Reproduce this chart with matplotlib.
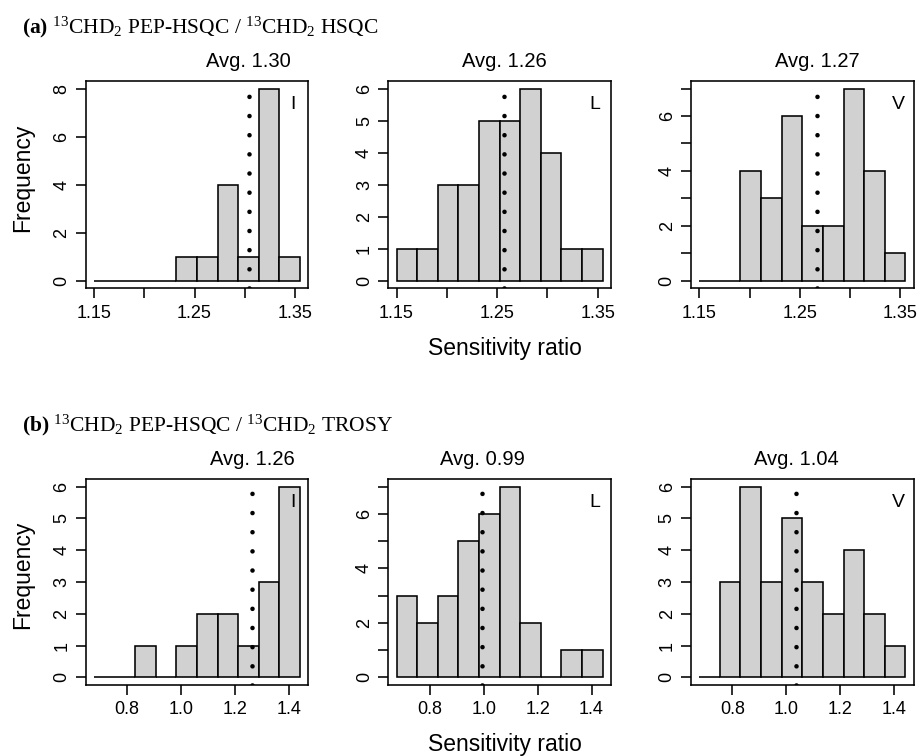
import numpy as np
import matplotlib
matplotlib.use("Agg")
import matplotlib.pyplot as plt

# histogram counts (10 bins per panel)
residues = ["I", "L", "V"]

hsqc_I = [0, 0, 0, 0, 1, 1, 4, 1, 8, 1]
hsqc_L = [1, 1, 3, 3, 5, 5, 6, 4, 1, 1]
hsqc_V = [0, 0, 4, 3, 6, 2, 2, 7, 4, 1]
hsqc_means = [1.304, 1.257, 1.267]
hsqc_avg_text = ["Avg. 1.30", "Avg. 1.26", "Avg. 1.27"]
hsqc_bin_start, hsqc_bin_width = 1.150, 0.0205
hsqc_xticks = [1.15, 1.20, 1.25, 1.30, 1.35]
hsqc_xticklabels = ["1.15", "", "1.25", "", "1.35"]

trosy_I = [0, 0, 1, 0, 1, 2, 2, 1, 3, 6]
trosy_L = [3, 2, 3, 5, 6, 7, 2, 0, 1, 1]
trosy_V = [0, 3, 6, 3, 5, 3, 2, 4, 2, 1]
trosy_means = [1.263, 0.994, 1.037]
trosy_avg_text = ["Avg. 1.26", "Avg. 0.99", "Avg. 1.04"]
trosy_bin_start, trosy_bin_width = 0.677, 0.0764
trosy_xticks = [0.8, 1.0, 1.2, 1.4]
trosy_xticklabels = ["0.8", "1.0", "1.2", "1.4"]

plt.rcParams["font.family"] = ["Liberation Sans", "DejaVu Sans"]
plt.rcParams["mathtext.fontset"] = "custom"
plt.rcParams["mathtext.rm"] = "Liberation Serif"
plt.rcParams["mathtext.it"] = "Liberation Serif:italic"
plt.rcParams["mathtext.bf"] = "Liberation Serif:bold"

BAR = "#d0d1d0"
LW = 1.15


def draw_panel(ax, counts, start, width, mean, avg_text, res, xticks, xticklabels):
    edges = start + width * np.arange(len(counts) + 1)
    ax.bar(edges[:-1], counts, width=width, align="edge",
           color=BAR, edgecolor="black", linewidth=LW, zorder=2)
    ymax = max(counts)
    lo, hi = edges[0], edges[-1]
    pad = 0.04 * (hi - lo)
    ax.set_xlim(lo - pad, hi + pad)
    ax.set_ylim(-0.04 * ymax, 1.04 * ymax)

    ax.set_xticks(xticks)
    ax.set_xticklabels(xticklabels)
    if ymax == 8:
        yt = [0, 2, 4, 6, 8]
        ax.set_yticks(yt)
        ax.set_yticklabels([str(v) for v in yt])
    else:
        yt = list(range(0, ymax + 1))
        ax.set_yticks(yt)
        if ymax >= 7:
            ax.set_yticklabels([str(v) if v % 2 == 0 else "" for v in yt])
        else:
            ax.set_yticklabels([str(v) for v in yt])

    ax.tick_params(direction="out", length=7, width=LW, labelsize=13)
    ax.tick_params(axis="x", pad=4.8)
    ax.tick_params(axis="y", pad=4, labelrotation=90)
    for lab in ax.get_yticklabels():
        lab.set_va("center")
    for sp in ax.spines.values():
        sp.set_linewidth(LW)
        sp.set_zorder(4)

    # dotted average line
    ax.axvline(mean, color="black", lw=3.3, linestyle=(0, (0.01, 4.17)),
               dash_capstyle="round", zorder=3)
    ax.annotate(avg_text, xy=(mean, 1), xycoords=("data", "axes fraction"),
                xytext=(0, 10), textcoords="offset points",
                ha="center", va="baseline", fontsize=14.5)
    ax.text(0.93, 0.885, res, transform=ax.transAxes, ha="center",
            va="center", fontsize=14)


fig = plt.figure(figsize=(9.19, 7.56), dpi=100)
lefts = [0.0933, 0.4225, 0.7519]
w = 0.2422

rows = [
    (0.6187, 0.2742, [hsqc_I, hsqc_L, hsqc_V], hsqc_means, hsqc_avg_text,
     hsqc_bin_start, hsqc_bin_width, hsqc_xticks, hsqc_xticklabels),
    (0.0939, 0.2725, [trosy_I, trosy_L, trosy_V], trosy_means, trosy_avg_text,
     trosy_bin_start, trosy_bin_width, trosy_xticks, trosy_xticklabels),
]

for bottom, h, series, means, avgs, start, width, xt, xtl in rows:
    for i, res in enumerate(residues):
        ax = fig.add_axes([lefts[i], bottom, w, h])
        draw_panel(ax, series[i], start, width, means[i], avgs[i], res, xt, xtl)

# panel headers
fig.text(21.7 / 919, 1 - 33 / 756,
         r"$\mathbf{(a)}$ $^{13}$CHD$_{2}$ PEP-HSQC / $^{13}$CHD$_{2}$ HSQC",
         family="Liberation Serif", fontsize=15.5, ha="left", va="baseline")
fig.text(21.7 / 919, 1 - 431 / 756,
         r"$\mathbf{(b)}$ $^{13}$CHD$_{2}$ PEP-HSQC / $^{13}$CHD$_{2}$ TROSY",
         family="Liberation Serif", fontsize=15.5, ha="left", va="baseline")

# shared axis labels
fig.text(23 / 919, 1 - 178 / 756, "Frequency", rotation=90,
         ha="center", va="center", fontsize=16.5)
fig.text(23 / 919, 1 - 575 / 756, "Frequency", rotation=90,
         ha="center", va="center", fontsize=16.5)
fig.text(505 / 919, 1 - 349 / 756, "Sensitivity ratio",
         ha="center", va="center", fontsize=16.5)
fig.text(505 / 919, 1 - 744 / 756, "Sensitivity ratio",
         ha="center", va="center", fontsize=16.5)

fig.savefig("out.png", dpi=100)
